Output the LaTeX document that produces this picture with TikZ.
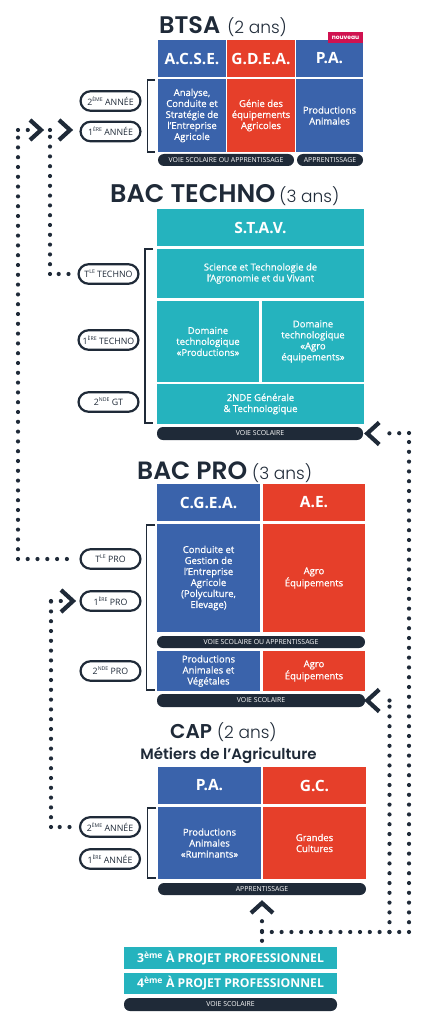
\documentclass[tikz,border=0pt]{standalone}
\usepackage{fontspec}
\setmainfont{Open Sans}
\newfontfamily\osemi{Open Sans}[FakeBold=0.7]
\newfontfamily\pop{Poppins}
\newfontfamily\popsb{Poppins SemiBold}
\newfontfamily\poplt{Poppins Light}
\usetikzlibrary{calc}
\definecolor{cblue}{RGB}{58,99,171}
\definecolor{cred}{RGB}{230,63,42}
\definecolor{cteal}{RGB}{37,179,190}
\definecolor{cdark}{RGB}{31,42,56}
\definecolor{cbadge}{RGB}{208,18,80}
\newcommand\supx[1]{\raisebox{0.45em}{\fontsize{5.2}{5.5}\selectfont #1}}
\newcommand\headf{\fontspec{Open Sans Bold}\fontsize{15.5}{16}\selectfont}
\newcommand\mkcell[7]{\node[cellbox,fill=#6,minimum width={(#4-#2)*1pt},minimum height={(#5-#3)*1pt}] (#1) at ({(#2+#4)/2},{(#3+#5)/2}) {#7};}
\newcommand\mkbar[6]{\node[barbox,minimum width={(#4-#2)*1pt},minimum height={(#5-#3)*1pt}] (#1) at ({(#2+#4)/2},{(#3+#5)/2}) {#6};}
\begin{document}
\begin{tikzpicture}[x=1pt,y=-1pt,
  cellbox/.style={rectangle,inner sep=0pt,text=white,align=center,font=\osemi\fontsize{9.5}{11}\selectfont},
  barbox/.style={rectangle,rounded corners=6pt,inner sep=0pt,fill=cdark,text=white,font=\fontsize{6.9}{7}\selectfont},
  pill/.style={rectangle,rounded corners=10pt,draw=cdark,line width=2.2pt,fill=white,minimum width=60pt,minimum height=19.5pt,inner sep=0pt,text=cdark,font=\fontsize{8.8}{9}\selectfont},
  badge/.style={rectangle,fill=cbadge,minimum width=35pt,minimum height=11pt,inner sep=0pt,text=white,font=\pop\bfseries\fontsize{6}{6}\selectfont},
  brk/.style={draw=cdark,line width=1.6pt},
  dotl/.style={draw=cdark,line width=4.2pt,line cap=round,dash pattern=on 0pt off 9.8pt},
  chev/.style={draw=cdark,line width=4.2pt,line join=miter},
  title/.style={anchor=base west,inner sep=0pt,text=cdark}]
\useasboundingbox (0,0) rectangle (434,1024);

% ---------- BTSA
\node[title] (tbtsa) at (159,34) {\popsb\fontsize{24}{25}\selectfont BTSA\hspace{7pt}{\poplt\fontsize{17}{18}\selectfont (2 ans)}};
\mkcell{acse}{158}{40}{226}{77}{cblue}{\headf A.C.S.E.}
\mkcell{gdea}{227}{40}{295}{77}{cred}{\headf G.D.E.A.}
\mkcell{pa}{296}{40}{363}{77}{cblue}{\headf P.A.}
\node[badge] (nouveau) at (345.5,37.5) {nouveau};
\mkcell{acseb}{158}{79}{226}{152}{cblue}{Analyse,\\Conduite et\\Stratégie de\\l’Entreprise\\Agricole}
\mkcell{gdeab}{227}{79}{295}{152}{cred}{Génie des\\équipements\\Agricoles}
\mkcell{pab}{296}{79}{363}{152}{cblue}{Productions\\Animales}
\mkbar{vbt1}{158}{154}{294}{166}{VOIE SCOLAIRE OU APPRENTISSAGE}
\mkbar{vbt2}{297}{154}{363}{166}{APPRENTISSAGE}
\node[pill] (bt2) at (110.5,101) {2\supx{ÈME} ANNÉE};
\node[pill] (bt1) at (110.5,131.5) {1\supx{ÈRE} ANNÉE};
\draw[brk] (155,80) -- (147.5,80) -- (147.5,152) -- (155,152);

% ---------- BAC TECHNO
\node[title] (ttechno) at (110,203) {\popsb\fontsize{25.5}{26}\selectfont BAC TECHNO\hspace{4pt}{\poplt\fontsize{17}{18}\selectfont (3 ans)}};
\mkcell{stav}{157}{209}{364}{246}{cteal}{\headf S.T.A.V.}
\mkcell{sci}{157}{249}{364}{298}{cteal}{Science et Technologie de\\l’Agronomie et du Vivant}
\mkcell{dom1}{157}{301}{259}{382}{cteal}{Domaine\\technologique\\«Productions»}
\mkcell{dom2}{262}{301}{364}{382}{cteal}{Domaine\\technologique\\«Agro\\équipements»}
\mkcell{nde}{157}{384}{364}{424}{cteal}{2NDE Générale\\\& Technologique}
\mkbar{vtech}{157}{427}{363}{440}{VOIE SCOLAIRE}
\node[pill] (tletechno) at (108.5,274) {T\supx{LE} TECHNO};
\node[pill] (pretechno) at (108.5,340) {1\supx{ÈRE} TECHNO};
\node[pill] (ndegt) at (108.5,402) {2\supx{NDE} GT};
\draw[brk] (153,249) -- (145,249) -- (145,423) -- (153,423);

% ---------- BAC PRO
\node[title] (tpro) at (137,479) {\popsb\fontsize{25}{26}\selectfont BAC PRO\hspace{5pt}{\poplt\fontsize{17}{18}\selectfont (3 ans)}};
\mkcell{cgea}{157}{484}{260}{521}{cblue}{\headf C.G.E.A.}
\mkcell{ae}{263}{484}{365}{521}{cred}{\headf A.E.}
\mkcell{cgeab}{157}{524}{260}{632}{cblue}{Conduite et\\Gestion de\\l’Entreprise\\Agricole\\(Polyculture,\\Elevage)}
\mkcell{aeb}{263}{524}{365}{632}{cred}{Agro\\Équipements}
\mkbar{vpro1}{157}{636}{365}{648}{VOIE SCOLAIRE OU APPRENTISSAGE}
\mkcell{pav}{157}{651}{260}{691}{cblue}{Productions\\Animales et\\Végétales}
\mkcell{ae2}{263}{651}{365}{691}{cred}{Agro\\Équipements}
\mkbar{vpro2}{157}{694}{365}{707}{VOIE SCOLAIRE}
\node[pill] (tlepro) at (110.5,559) {T\supx{LE} PRO};
\node[pill] (prepro) at (110.5,601) {1\supx{ÈRE} PRO};
\node[pill] (ndepro) at (110.5,671) {2\supx{NDE} PRO};
\draw[brk] (155,525) -- (146.5,525) -- (146.5,690) -- (155,690);

% ---------- CAP
\node[title] (tcap) at (170,738) {\popsb\fontsize{20}{21}\selectfont CAP\hspace{5pt}{\poplt\fontsize{17}{18}\selectfont (2 ans)}};
\node[anchor=base,inner sep=0pt,text=cdark,font=\popsb\fontsize{15}{16}\selectfont] (metiers) at (228.5,759) {Métiers de l’Agriculture};
\mkcell{pa2}{158}{767}{261}{804}{cblue}{\headf P.A.}
\mkcell{gc}{263}{767}{366}{804}{cred}{\headf G.C.}
\mkcell{pa2b}{158}{807}{261}{879}{cblue}{Productions\\Animales\\«Ruminants»}
\mkcell{gcb}{263}{807}{366}{879}{cred}{Grandes\\Cultures}
\mkbar{vcap}{158}{883}{366}{895}{APPRENTISSAGE}
\node[pill] (cap2) at (110,827) {2\supx{ÈME} ANNÉE};
\node[pill] (cap1) at (110,859) {1\supx{ÈRE} ANNÉE};
\draw[brk] (156,808) -- (147.5,808) -- (147.5,878) -- (156,878);

% ---------- bottom
\mkcell{p3}{124}{947}{337}{969}{cteal}{\fontspec{Open Sans Bold}\fontsize{12.2}{12}\selectfont 3\textsuperscript{ème} À PROJET PROFESSIONNEL}
\mkcell{p4}{124}{973}{337}{994}{cteal}{\fontspec{Open Sans Bold}\fontsize{12.2}{12}\selectfont 4\textsuperscript{ème} À PROJET PROFESSIONNEL}
\mkbar{vcol}{124}{998}{337}{1011}{VOIE SCOLAIRE}

% ---------- connectors
% Tle PRO -> BTSA 1re annee
\coordinate (jA) at (18,559);
\coordinate (kA) at (18,130);
\coordinate (tipA) at (41,130);
\draw[dotl] ($(tlepro.west)+(-12.5,0)$) -- (jA) (jA) -- (kA) (kA) -- ($(tipA)+(-11,0)$);
\draw[chev] ($(tipA)+(-11,-10)$) -- (tipA) -- ($(tipA)+(-11,10)$);
% Tle TECHNO -> BTSA 1re annee
\coordinate (jB) at (50,274);
\coordinate (kB) at (50,130);
\coordinate (tipB) at (70,130);
\draw[dotl] ($(tletechno.west)+(-8.9,0)$) -- (jB) (jB) -- (kB) (kB) -- ($(tipB)+(-11,0)$);
\draw[chev] ($(tipB)+(-11,-10)$) -- (tipB) -- ($(tipB)+(-11,10)$);
% CAP 2e annee -> 1re PRO
\coordinate (jC) at (51,827);
\coordinate (kC) at (51,601);
\coordinate (tipC) at (73,601);
\draw[dotl] ($(cap2.west)+(-9.4,0)$) -- (jC) (jC) -- (kC) (kC) -- ($(tipC)+(-12,0)$);
\draw[chev] ($(tipC)+(-12,-11)$) -- (tipC) -- ($(tipC)+(-12,11)$);
% 3e -> CAP
\coordinate (tipD) at (262,903);
\coordinate (jD) at (262,932);
\draw[dotl] ($(p3.north -| tipD)+(0,-6)$) -- ($(tipD)+(0,10)$);
\draw[chev] ($(tipD)+(-11,10)$) -- (tipD) -- ($(tipD)+(11,10)$);
% 3e -> BAC TECHNO
\coordinate (jE) at (409,932);
\coordinate (kE) at (409,433);
\coordinate (tipE) at ($(vtech.east)+(4,0)$);
\draw[dotl] (jD) -- (jE) (jE) -- (kE) (kE) -- ($(tipE)+(13,0)$);
\draw[chev] ($(tipE)+(12,-11)$) -- (tipE) -- ($(tipE)+(12,11)$);
% 3e -> BAC PRO
\coordinate (jF) at (389.5,932);
\coordinate (kF) at (389.5,700.5);
\coordinate (tipF) at ($(vpro2.east)+(2,0)$);
\draw[dotl] (jF) -- (kF) (kF) -- ($(tipF)+(13,0)$);
\draw[chev] ($(tipF)+(12,-11)$) -- (tipF) -- ($(tipF)+(12,11)$);
\end{tikzpicture}
\end{document}
